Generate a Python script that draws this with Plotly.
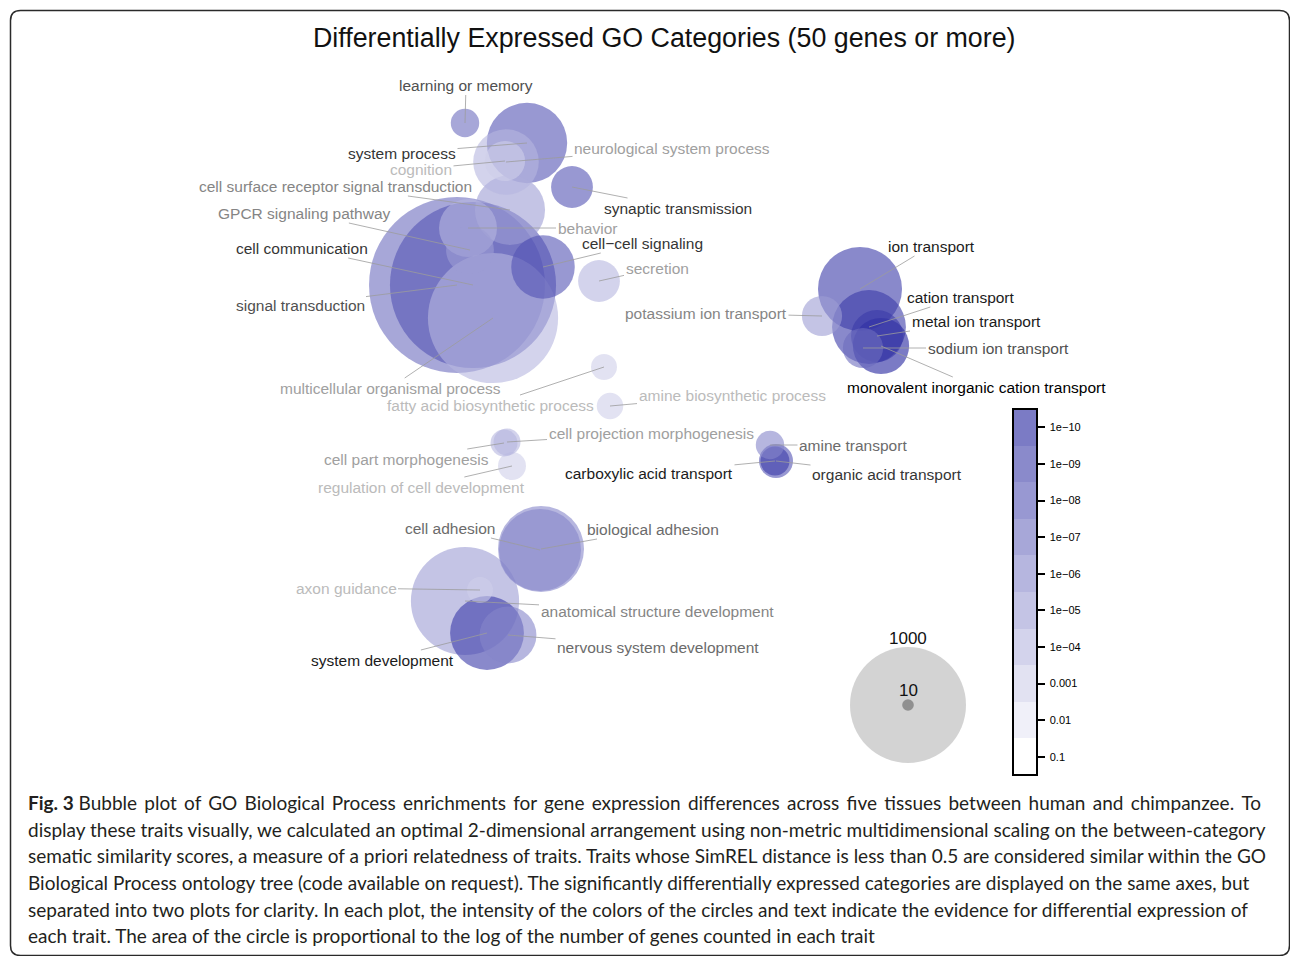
import math
import plotly.graph_objects as go

W, H = 1290, 956

# GO Biological Process categories (50 genes or more)
terms = [
    "learning or memory", "system process", "neurological system process", "cognition",
    "cell surface receptor signal transduction", "GPCR signaling pathway", "behavior",
    "cell communication", "signal transduction", "multicellular organismal process",
    "cell\u2212cell signaling", "synaptic transmission", "secretion",
    "fatty acid biosynthetic process", "amine biosynthetic process",
    "ion transport", "potassium ion transport", "cation transport", "metal ion transport",
    "sodium ion transport", "monovalent inorganic cation transport",
    "amine transport", "organic acid transport", "carboxylic acid transport",
    "cell projection morphogenesis", "cell part morphogenesis", "regulation of cell development",
    "cell adhesion", "biological adhesion", "anatomical structure development",
    "axon guidance", "system development", "nervous system development",
]

# 2-D non-metric MDS coordinates of each category
mds_x = [
    -0.675, -0.365, -0.470, -0.475,
    -0.450, -0.650, -0.660,
    -0.635, -0.715, -0.535,
    -0.285, -0.140, -0.005,
    0.020, 0.050,
    1.300, 1.110, 1.345, 1.385,
    1.315, 1.405,
    0.850, 0.880, 0.875,
    -0.465, -0.480, -0.440,
    -0.300, -0.295, -0.675,
    -0.600, -0.565, -0.460,
]
mds_y = [
    1.385, 1.285, 1.190, 1.195,
    0.950, 0.750, 0.860,
    0.575, 0.575, 0.410,
    0.665, 1.065, 0.595,
    0.165, -0.030,
    0.555, 0.420, 0.365, 0.320,
    0.260, 0.270,
    -0.225, -0.305, -0.305,
    -0.210, -0.215, -0.330,
    -0.750, -0.745, -1.005,
    -0.950, -1.165, -1.175,
]

# number of genes counted in each category
genes = [
    60, 480, 320, 120,
    365, 170, 250,
    2050, 2300, 1260,
    300, 130, 130,
    50, 52,
    525, 120, 405, 200,
    120, 235,
    60, 86, 62,
    54, 54, 58,
    500, 550, 870,
    50, 405, 240,
]

# enrichment p-values for differential expression
pvalues = [
    8e-08, 6e-09, 9e-05, 7e-04,
    2e-05, 1e-05, 1e-04,
    5e-09, 2e-07, 1e-04,
    7e-09, 1e-08, 1e-04,
    1e-03, 8e-04,
    1e-09, 2e-05, 6e-10, 4e-10,
    1e-07, 2e-11,
    9e-07, 7e-09, 1e-09,
    1e-04, 8e-05, 1e-03,
    6e-07, 5e-07, 1e-05,
    1e-03, 9e-10, 1e-06,
]

# label anchor positions (same MDS units)
label_x = [
    -0.670, -0.990, 0.360, -0.895,
    -1.325, -1.480, -0.065,
    -1.490, -1.500, -1.050,
    0.210, 0.390, 0.285,
    -0.550, 0.660,
    1.655, 0.530, 1.805, 1.880,
    1.990, 1.880,
    1.265, 1.435, 0.245,
    0.255, -0.970, -0.895,
    -0.750, 0.265, 0.285,
    -1.270, -1.090, 0.290,
]
label_y = [
    1.575, 1.235, 1.260, 1.155,
    1.070, 0.935, 0.860,
    0.760, 0.475, 0.060,
    0.785, 0.960, 0.660,
    -0.025, 0.025,
    0.770, 0.435, 0.515, 0.395,
    0.260, 0.065,
    -0.225, -0.370, -0.365,
    -0.165, -0.295, -0.435,
    -0.640, -0.645, -1.055,
    -0.940, -1.300, -1.235,
]

# colour key: -log10(p) bins and their labels
bar_levels = list(range(1, 11))
bar_labels = ["0.1", "0.01", "0.001", "1e\u221204", "1e\u221205",
              "1e\u221206", "1e\u221207", "1e\u221208", "1e\u221209", "1e\u221210"]

# size key
size_key_genes = [1000, 10]
size_key_x = [1.54, 1.54]
size_key_y = [-1.525, -1.525]

title = "Differentially Expressed GO Categories (50 genes or more)"
caption = [
    "Bubble plot of GO Biological Process enrichments for gene expression differences across five tissues between human and chimpanzee. To",
    "display these traits visually, we calculated an optimal 2-dimensional arrangement using non-metric multidimensional scaling on the between-category",
    "sematic similarity scores, a measure of a priori relatedness of traits. Traits whose SimREL distance is less than 0.5 are considered similar within the GO",
    "Biological Process ontology tree (code available on request). The significantly differentially expressed categories are displayed on the same axes, but",
    "separated into two plots for clarity. In each plot, the intensity of the colors of the circles and text indicate the evidence for differential expression of",
    "each trait. The area of the circle is proportional to the log of the number of genes counted in each trait",
]
caption_tag = "Fig. 3"

# ---- styling -------------------------------------------------------------
FONT = "Liberation Sans"
CAPTION_FONT = "Lato"
ALPHA = 0.6
DARK = (35, 35, 158)
PX_PER_SQRT_GENE = 1.834            # bubble radius in px per sqrt(genes)
SIZEREF = 1.0 / (2 * PX_PER_SQRT_GENE ** 2)
NB = "\u00a0"
THIN = "\u2009"                     # widens word gaps on the justified first line


def level_of(p):
    return int(min(10, max(1, round(-math.log10(p)))))


def frac(level):
    return (level - 1) / 9.0


def mix(t):
    return "rgb(%d,%d,%d)" % tuple(round(255 * (1 - t) + c * t) for c in DARK)


def text_color(level):
    g = round(240 * (1 - frac(level)))
    return "rgb(%d,%d,%d)" % (g, g, g)


levels = [level_of(p) for p in pvalues]
order = sorted(range(len(terms)), key=lambda i: -genes[i])

fig = go.Figure()

fig.add_trace(go.Scatter(
    x=[mds_x[i] for i in order],
    y=[mds_y[i] for i in order],
    mode="markers",
    text=[terms[i] for i in order],
    hoverinfo="text",
    marker=dict(
        size=[genes[i] for i in order],
        sizemode="area",
        sizeref=SIZEREF,
        color=[mix(frac(levels[i])) for i in order],
        opacity=ALPHA,
        line=dict(width=0),
    ),
    cliponaxis=False,
    showlegend=False,
))

# size key
fig.add_trace(go.Scatter(
    x=size_key_x, y=size_key_y, mode="markers",
    marker=dict(size=size_key_genes, sizemode="area", sizeref=SIZEREF,
                color=["#c1c0c0", "#737373"], line=dict(width=0)),
    hoverinfo="skip", showlegend=False,
))

# colour key (alpha-blended bin colours)
n = len(bar_levels)
cscale = []
for k, lv in enumerate(bar_levels):
    c = mix(frac(lv) * ALPHA)
    cscale.append([k / n, c])
    cscale.append([(k + 1) / n, c])

fig.add_trace(go.Scatter(
    x=[None], y=[None], mode="markers", hoverinfo="skip", showlegend=False,
    marker=dict(
        color=[bar_levels[0]], colorscale=cscale, cmin=0.5, cmax=10.5, showscale=True,
        colorbar=dict(
            tickvals=bar_levels, ticktext=[NB + s for s in bar_labels],
            thickness=24, thicknessmode="pixels", len=366, lenmode="pixels",
            x=1013 / W, xanchor="left", xpad=0,
            y=1 - 592 / H, yanchor="middle", ypad=0,
            outlinewidth=2, outlinecolor="black",
            ticks="outside", ticklen=7, tickwidth=1.5, tickcolor="black",
            tickfont=dict(family=FONT, size=11, color="black"),
        ),
    ),
))

annotations = []
for i, term in enumerate(terms):
    annotations.append(dict(
        x=mds_x[i], y=mds_y[i], xref="x", yref="y",
        ax=label_x[i], ay=label_y[i], axref="x", ayref="y",
        text=term, showarrow=True, arrowhead=0, arrowwidth=0.8,
        arrowcolor="#9c9c9c", standoff=0,
        font=dict(family=FONT, size=15.5, color=text_color(levels[i])),
    ))

size_label_y = [-1.19, -1.45]
for g, sx, sy in zip(size_key_genes, size_key_x, size_label_y):
    annotations.append(dict(
        x=sx, y=sy, xref="x", yref="y", text=str(g), showarrow=False,
        font=dict(family=FONT, size=17, color="#111111"),
    ))

annotations.append(dict(
    x=664 / W, y=1 - 38 / H, xref="paper", yref="paper", text=title,
    showarrow=False, xanchor="center", yanchor="middle",
    font=dict(family=FONT, size=26.8, color="#111111"),
))

caption_lines = list(caption)
caption_lines[0] = "<b>" + caption_tag + "</b> " + (" " + THIN).join(caption[0].split(" "))
caption_y = [802, 829, 855, 882, 909, 935]
for line, cy in zip(caption_lines, caption_y):
    annotations.append(dict(
        x=26 / W, y=1 - cy / H, xref="paper", yref="paper", text=line,
        showarrow=False, xanchor="left", yanchor="middle",
        font=dict(family=CAPTION_FONT, size=19, color="#231f20"),
    ))


def pp(x, y):
    return "%.5f,%.5f" % (x / W, 1 - y / H)


L, Tp, R, B, r = 10.5, 10.5, 1289.5, 955.5, 10
frame = ("M " + pp(L, B - r) + " L " + pp(L, Tp + r) + " Q " + pp(L, Tp) + " " + pp(L + r, Tp)
         + " L " + pp(R - r, Tp) + " Q " + pp(R, Tp) + " " + pp(R, Tp + r)
         + " L " + pp(R, B - r) + " Q " + pp(R, B) + " " + pp(R - r, B)
         + " L " + pp(L + r, B) + " Q " + pp(L, B) + " " + pp(L, B - r) + " Z")

fig.update_layout(
    width=W, height=H,
    margin=dict(l=0, r=0, t=0, b=0),
    paper_bgcolor="white", plot_bgcolor="white",
    xaxis=dict(range=[-3.0, 3.45], visible=False, fixedrange=True),
    yaxis=dict(range=[-2.78, 2.0], visible=False, fixedrange=True),
    annotations=annotations,
    shapes=[dict(type="path", path=frame, xref="paper", yref="paper",
                 line=dict(color="#2a2a2a", width=1.5))],
    showlegend=False,
    hovermode="closest",
)

fig.write_html("out.html")
